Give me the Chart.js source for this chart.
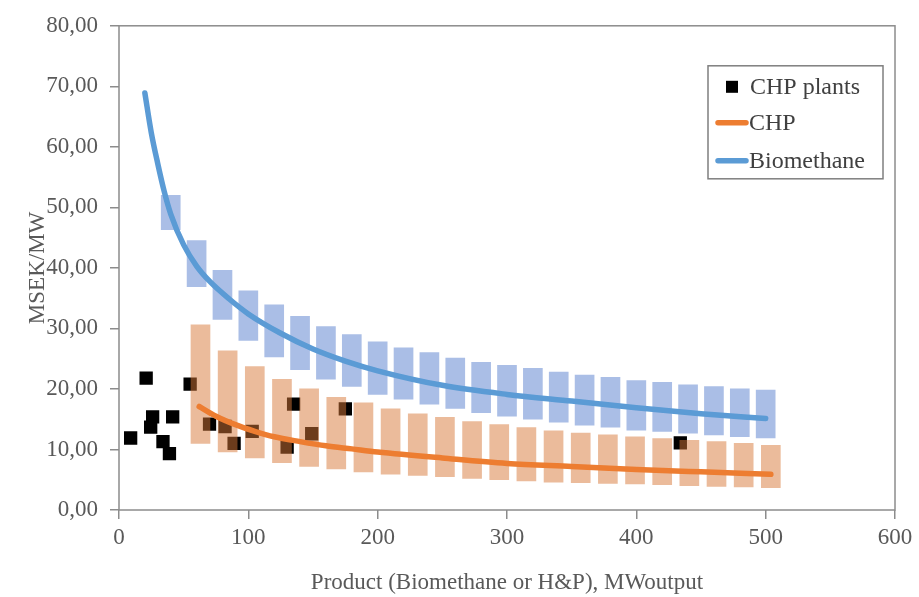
<!DOCTYPE html>
<html>
<head>
<meta charset="utf-8">
<script src="https://cdn.jsdelivr.net/npm/chart.js@4"></script>
<style>
  html, body { margin: 0; padding: 0; background: #fff; }
  #wrap { width: 919px; height: 597px; }
</style>
</head>
<body>
<div id="wrap"><canvas id="grafico"></canvas></div>
<script>
// CHP plants (black squares)
const plantX = [9, 21, 26, 24.5, 34, 39, 41.5, 55, 70, 82, 89, 103, 130, 135, 149, 175, 434];
const plantY = [11.9, 21.8, 15.4, 13.7, 11.3, 9.3, 15.4, 20.8, 14.2, 13.8, 11.0, 13.0, 10.4, 17.5, 12.6, 16.7, 11.1];

// Biomethane cost range (blue bars)
const bioBarX = [40, 60, 80, 100, 120, 140, 160, 180, 200, 220, 240, 260, 280, 300, 320, 340, 360, 380, 400, 420, 440, 460, 480, 500];
const bioBarLow = [46.3, 36.9, 31.5, 28.0, 25.3, 23.2, 21.6, 20.4, 19.1, 18.3, 17.5, 16.8, 16.1, 15.5, 15.0, 14.5, 14.0, 13.7, 13.2, 13.0, 12.7, 12.4, 12.1, 11.9];
const bioBarHigh = [52.0, 44.5, 39.6, 36.2, 33.9, 32.0, 30.3, 29.0, 27.8, 26.8, 26.0, 25.1, 24.4, 23.9, 23.4, 22.8, 22.3, 21.9, 21.4, 21.1, 20.7, 20.4, 20.0, 19.8];

// CHP cost range (orange bars)
const chpBarX = [63, 84, 105, 126, 147, 168, 189, 210, 231, 252, 273, 294, 315, 336, 357, 378, 399, 420, 441, 462, 483, 504];
const chpBarLow = [11.0, 9.6, 8.6, 7.8, 7.2, 6.8, 6.3, 5.9, 5.7, 5.5, 5.2, 5.0, 4.8, 4.6, 4.5, 4.4, 4.3, 4.2, 4.0, 3.9, 3.8, 3.7];
const chpBarHigh = [30.6, 26.3, 23.7, 21.6, 20.0, 18.6, 17.7, 16.7, 15.9, 15.3, 14.6, 14.1, 13.6, 13.1, 12.7, 12.4, 12.1, 11.8, 11.5, 11.3, 11.0, 10.7];

// curves
const bioLineX = [20, 25, 30, 35, 40, 50, 60, 70, 85, 100, 125, 150, 175, 200, 250, 300, 350, 400, 450, 500];
const bioLineY = [68.9, 62.3, 57.2, 52.6, 48.9, 43.8, 40.3, 37.8, 34.9, 32.4, 29.2, 26.6, 24.6, 23.0, 20.6, 19.1, 18.0, 16.9, 15.9, 15.1];
const chpLineX = [62, 75, 90, 105, 120, 140, 160, 180, 200, 250, 300, 350, 400, 450, 504];
const chpLineY = [17.1, 15.5, 14.1, 13.0, 12.1, 11.3, 10.6, 10.1, 9.6, 8.6, 7.7, 7.2, 6.7, 6.3, 5.9];

// axis labels
const xTickLabels = ['0', '100', '200', '300', '400', '500', '600'];
const yTickLabels = ['0,00', '10,00', '20,00', '30,00', '40,00', '50,00', '60,00', '70,00', '80,00'];

const serif = "'Liberation Serif', 'Times New Roman', serif";
const axisGrey = '#8c8c8c';
const textGrey = '#595959';

const toPoints = (xs, ys) => xs.map((x, i) => ({ x: x, y: ys[i] }));
const toRanges = (xs, lo, hi) => xs.map((x, i) => ({ x: x, y: [lo[i], hi[i]] }));

// box around the plot area
const frame = {
  id: 'frame',
  afterDatasetsDraw(chart) {
    const { ctx, chartArea: a } = chart;
    ctx.save();
    ctx.strokeStyle = axisGrey;
    ctx.lineWidth = 1.5;
    ctx.strokeRect(a.left, a.top, a.right - a.left, a.bottom - a.top);
    ctx.restore();
  }
};

// legend drawn inside the plot
const legendBox = {
  id: 'legendBox',
  afterDraw(chart) {
    const { ctx, chartArea: a } = chart;
    const left = a.right - 187, top = a.top + 40;
    ctx.save();
    ctx.fillStyle = '#fff';
    ctx.fillRect(left, top, 175, 113);
    ctx.strokeStyle = '#7f7f7f';
    ctx.lineWidth = 1.5;
    ctx.strokeRect(left, top, 175, 113);

    ctx.font = '24px ' + serif;
    ctx.textBaseline = 'middle';
    const rows = [
      { text: 'CHP plants', y: top + 21 },
      { text: 'CHP', y: top + 57, color: '#ed7d31' },
      { text: 'Biomethane', y: top + 95, color: '#5b9bd5' }
    ];
    rows.forEach((r, i) => {
      if (i === 0) {
        ctx.fillStyle = '#000';
        ctx.fillRect(left + 18, r.y - 6, 12, 12);
      } else {
        ctx.strokeStyle = r.color;
        ctx.lineWidth = 5.5;
        ctx.lineCap = 'round';
        ctx.beginPath();
        ctx.moveTo(left + 10, r.y);
        ctx.lineTo(left + 38, r.y);
        ctx.stroke();
      }
      ctx.fillStyle = '#404040';
      ctx.fillText(r.text, left + (i === 0 ? 42 : 41), r.y + 1);
    });
    ctx.restore();
  }
};

Chart.defaults.font.family = serif;
Chart.defaults.color = textGrey;

const chart = new Chart(document.getElementById('grafico').getContext('2d'), {
  type: 'scatter',
  data: {
    datasets: [
      {
        type: 'line', label: 'Biomethane', data: toPoints(bioLineX, bioLineY),
        borderColor: '#5b9bd5', borderWidth: 5.5, borderCapStyle: 'round',
        pointRadius: 0, cubicInterpolationMode: 'monotone', fill: false, order: 1
      },
      {
        type: 'line', label: 'CHP', data: toPoints(chpLineX, chpLineY),
        borderColor: '#ed7d31', borderWidth: 5.5, borderCapStyle: 'round',
        pointRadius: 0, cubicInterpolationMode: 'monotone', fill: false, order: 2
      },
      {
        type: 'bar', label: 'Biomethane range', data: toRanges(bioBarX, bioBarLow, bioBarHigh),
        backgroundColor: 'rgba(85,125,205,0.5)', barThickness: 19, grouped: false, order: 3
      },
      {
        type: 'bar', label: 'CHP range', data: toRanges(chpBarX, chpBarLow, chpBarHigh),
        backgroundColor: 'rgba(215,120,55,0.5)', barThickness: 19, grouped: false, order: 4
      },
      {
        type: 'scatter', label: 'CHP plants', data: toPoints(plantX, plantY),
        pointStyle: 'rect', pointRadius: 8, pointHoverRadius: 8,
        backgroundColor: '#000', borderColor: '#000', borderWidth: 2,
        borderJoinStyle: 'round', order: 5
      }
    ]
  },
  options: {
    responsive: true,
    maintainAspectRatio: false,
    animation: false,
    layout: { padding: { left: 20, right: 24, top: 22, bottom: 0 } },
    plugins: { legend: { display: false }, tooltip: { enabled: false } },
    scales: {
      x: {
        type: 'linear', min: 0, max: 600, offset: false,
        afterFit: s => { s.height = 87; },
        border: { display: false },
        grid: { drawOnChartArea: false, drawTicks: true, tickLength: 9, color: axisGrey, lineWidth: 1.5, offset: false },
        ticks: { stepSize: 100, padding: 5, font: { size: 23 }, color: textGrey,
                 callback: (v, i) => xTickLabels[i] },
        title: { display: true, text: 'Product (Biomethane or H&P), MWoutput',
                 font: { size: 23 }, color: textGrey, padding: { top: 0, bottom: 0 } }
      },
      y: {
        type: 'linear', min: 0, max: 80,
        afterFit: s => { s.width = 99; },
        border: { display: false },
        grid: { drawOnChartArea: false, drawTicks: true, tickLength: 9, color: axisGrey, lineWidth: 1.5 },
        ticks: { stepSize: 10, padding: 12, font: { size: 23 }, color: textGrey,
                 callback: (v, i) => yTickLabels[i] },
        title: { display: true, text: 'MSEK/MW', font: { size: 23 }, color: textGrey,
                 padding: { top: 4, bottom: 0 } }
      }
    }
  },
  plugins: [frame, legendBox]
});
</script>
</body>
</html>
